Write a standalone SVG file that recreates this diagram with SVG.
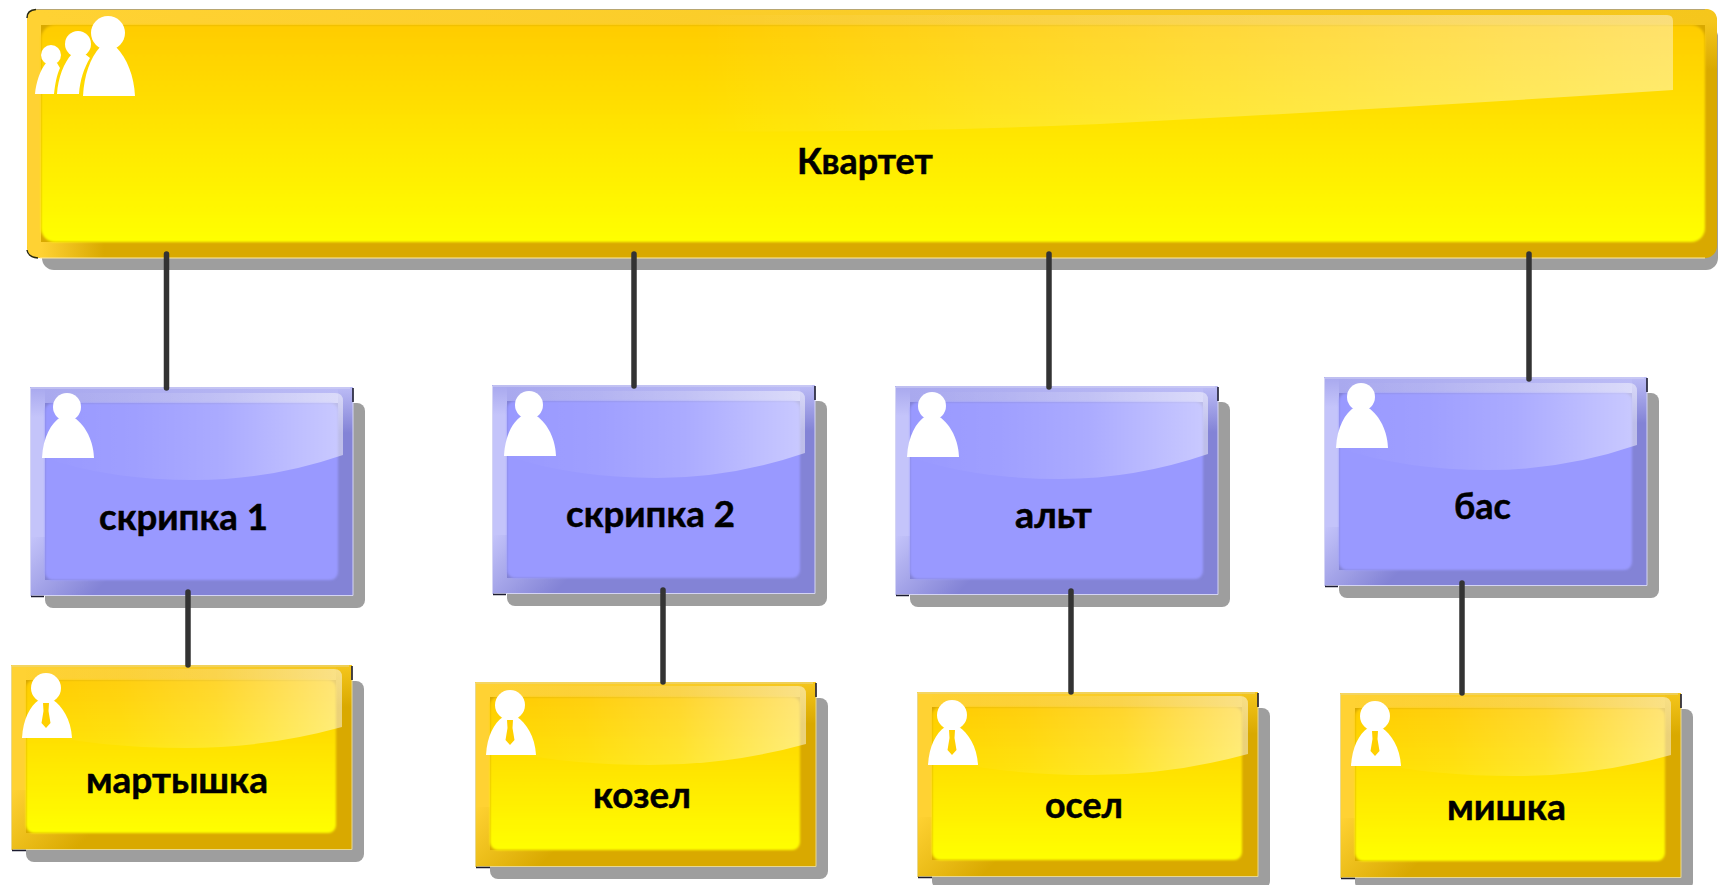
<svg xmlns="http://www.w3.org/2000/svg" width="1718" height="885" viewBox="0 0 1718 885">
<style>
text{font-family:"Lato","Noto Sans","Liberation Sans",sans-serif;font-weight:700;font-size:37px;fill:#000;stroke:#000;stroke-width:.5}
.sh{fill:#9e9e9e}
.tick{fill:none;stroke:#1c1c30;stroke-width:1.6}
.edge{fill:none;stroke:#e8d890;stroke-width:1}
.edgeb{fill:none;stroke:#d4d4f4;stroke-width:1}
.conn{stroke:#333;stroke-width:5.5;stroke-linecap:round;fill:none}
.ic{fill:#fff}
</style>
<defs>
<linearGradient id="yIn" x1="0" y1="0" x2="0" y2="1"><stop offset="0" stop-color="#ffcc00"/><stop offset="1" stop-color="#ffff00"/></linearGradient>
<linearGradient id="yCorner" gradientUnits="userSpaceOnUse" x1="0" y1="125" x2="62" y2="187"><stop offset="0" stop-color="#ffd233"/><stop offset="1" stop-color="#d9a900"/></linearGradient>
<linearGradient id="yTopS" x1="0" y1="0" x2="1" y2="0"><stop offset="0" stop-color="#ffd233"/><stop offset="1" stop-color="#f5c61c"/></linearGradient>
<linearGradient id="yR" x1="0" y1="0" x2="0" y2="1"><stop offset="0" stop-color="#f5c61c"/><stop offset="1" stop-color="#d9a900"/></linearGradient>
<linearGradient id="yB" x1="0" y1="0" x2="1" y2="0"><stop offset="0" stop-color="#ffd233"/><stop offset=".7" stop-color="#d9a900"/></linearGradient>
<linearGradient id="bL" x1="0" y1="0" x2="0" y2="1"><stop offset="0" stop-color="#a8a8ee"/><stop offset=".2" stop-color="#c4c4fa"/><stop offset="1" stop-color="#c4c4fa"/></linearGradient>
<linearGradient id="bCorner" gradientUnits="userSpaceOnUse" x1="0" y1="150" x2="60" y2="210"><stop offset="0" stop-color="#c4c4fa"/><stop offset="1" stop-color="#8383d6"/></linearGradient>
<linearGradient id="bTopS" x1="0" y1="0" x2="1" y2="0"><stop offset="0" stop-color="#a8a8ee"/><stop offset="1" stop-color="#bcbcf6"/></linearGradient>
<linearGradient id="bR" x1="0" y1="0" x2="0" y2="1"><stop offset="0" stop-color="#bcbcf6"/><stop offset="1" stop-color="#8383d6"/></linearGradient>
<linearGradient id="gl" x1="0" y1="0" x2="1" y2="0"><stop offset="0" stop-color="#fff" stop-opacity="0"/><stop offset=".3" stop-color="#fff" stop-opacity=".06"/><stop offset=".6" stop-color="#fff" stop-opacity=".18"/><stop offset="1" stop-color="#fff" stop-opacity=".48"/></linearGradient>
<linearGradient id="glT" x1="0" y1="0" x2="1" y2="0"><stop offset="0" stop-color="#fff" stop-opacity="0"/><stop offset=".4" stop-color="#fff" stop-opacity="0"/><stop offset="1" stop-color="#fff" stop-opacity=".42"/></linearGradient>
<filter id="soft" x="-5%" y="-5%" width="110%" height="110%"><feGaussianBlur stdDeviation=".5"/></filter>
<filter id="soft2" x="-3%" y="-3%" width="106%" height="106%"><feGaussianBlur stdDeviation=".8"/></filter>

<g id="blueBox">
<rect class="sh" x="15" y="16" width="320" height="205" rx="8"/>
<rect x="0" y="0" width="323" height="209" rx="3" fill="#8383d6"/>
<rect x="0" y="0" width="323" height="16" fill="url(#bTopS)"/>
<rect x="308" y="0" width="15" height="46" fill="url(#bR)"/>
<rect x="0" y="0" width="15" height="150" fill="url(#bL)"/>
<path d="M0 150H15V193H100V209H0Z" fill="url(#bCorner)"/>
<rect x="15" y="16" width="293" height="177" rx="8" fill="#9999ff" filter="url(#soft2)"/>
<path d="M15 14Q15 6 23 6H305Q313 6 313 14V68Q240 93 165 93Q80 93 15 71Z" fill="url(#gl)"/>
<path class="edgeb" d="M0.500 209V1H320M323 4V208.500H2"/>
<path class="tick" d="M323 1V15M1 209.500H14"/>
<g class="ic" filter="url(#soft)">
<circle cx="37" cy="20" r="14"/>
<path d="M12 71C13 50 21 36 31 30H43C53 36 63 50 64 71Z"/>
</g>
</g>

<g id="yellowBox">
<rect class="sh" x="15" y="16" width="338" height="181" rx="8"/>
<rect x="0" y="0" width="341" height="185" rx="3" fill="#d9a900"/>
<rect x="0" y="0" width="341" height="15" fill="url(#yTopS)"/>
<rect x="325" y="0" width="16" height="42" fill="url(#yR)"/>
<rect x="0" y="0" width="15" height="125" fill="#ffd233"/>
<path d="M0 125H15V168H120V185H0Z" fill="url(#yCorner)"/>
<rect x="15" y="15" width="310" height="153" rx="8" fill="url(#yIn)" filter="url(#soft2)"/>
<path d="M15 12Q15 4 23 4H323Q331 4 331 12V62Q255 83 175 83Q85 83 15 66Z" fill="url(#gl)"/>
<path class="edge" d="M0.500 185V1H338M341 4V184.500H2"/>
<path class="tick" d="M341 1V15M1 185.500H15"/>
<g filter="url(#soft)">
<circle class="ic" cx="35" cy="23" r="15"/>
<path class="ic" d="M11 73C12 54 19 41 28 35H42C51 41 60 54 61 73Z"/>
<path d="M32 38H38L37.500 46L39.500 58L35 63L30.500 58L32.500 46Z" fill="#ffd000"/>
</g>
</g>
</defs>

<g id="node-quartet">
<rect class="sh" x="42" y="25" width="1676" height="245" rx="12"/>
<rect x="27" y="9" width="1690" height="249" rx="12" fill="#d9a900"/>
<path d="M39 9H1705Q1717 9 1717 21V25H39Z" fill="url(#yTopS)"/>
<rect x="1705" y="22" width="12" height="48" fill="url(#yR)"/>
<path d="M27 21Q27 9 39 9H41V258H39Q27 258 27 246Z" fill="#ffd233"/>
<rect x="41" y="242" width="90" height="16" fill="url(#yB)"/>
<rect x="41" y="25" width="1664" height="217" rx="14" fill="url(#yIn)" filter="url(#soft2)"/>
<path d="M41 15H1667Q1673 15 1673 21V90Q1400 108 1100 124Q850 135 600 130Q300 122 41 100Z" fill="url(#glT)"/>
<path d="M36 9.500H1705" fill="none" stroke="#b8a670" stroke-width="1"/>
<path d="M40 258H1705" fill="none" stroke="#ffe9a0" stroke-width="1"/>
<path d="M27 18Q27 10 36 9.500M27 250Q28 257 38 258" fill="none" stroke="#2a2a10" stroke-width="1.500"/>
<g class="ic" filter="url(#soft)">
<circle cx="108" cy="33" r="17"/>
<path d="M83 96C84 76 90 58 100 47H116C127 58 134 76 135 96Z"/>
<circle cx="78" cy="44" r="13"/>
<path d="M57 94C58 78 64 62 72 54H85L90 58C84 68 80 80 79 94Z"/>
<circle cx="51" cy="55" r="10"/>
<path d="M35 94C36 83 40 70 46 63H57L60 68C57 74 55 84 54 94Z"/>
</g>
<text x="797" y="174" textLength="136" lengthAdjust="spacingAndGlyphs">Квартет</text>
</g>

<g id="node-violin1"><use href="#blueBox" x="30" y="387"/><text x="99" y="530" textLength="169" lengthAdjust="spacingAndGlyphs">скрипка 1</text></g>
<g id="node-violin2"><use href="#blueBox" x="492" y="385"/><text x="566" y="527" textLength="169" lengthAdjust="spacingAndGlyphs">скрипка 2</text></g>
<g id="node-viola"><use href="#blueBox" x="895" y="386"/><text x="1015" y="528" textLength="77" lengthAdjust="spacingAndGlyphs">альт</text></g>
<g id="node-bass"><use href="#blueBox" x="1324" y="377"/><text x="1454" y="519" textLength="57" lengthAdjust="spacingAndGlyphs">бас</text></g>

<g id="node-monkey"><use href="#yellowBox" x="11" y="665"/><text x="86" y="793" textLength="182" lengthAdjust="spacingAndGlyphs">мартышка</text></g>
<g id="node-goat"><use href="#yellowBox" x="475" y="682"/><text x="593" y="808" textLength="98" lengthAdjust="spacingAndGlyphs">козел</text></g>
<g id="node-donkey"><use href="#yellowBox" x="917" y="692"/><text x="1045" y="818" textLength="78" lengthAdjust="spacingAndGlyphs">осел</text></g>
<g id="node-bear"><use href="#yellowBox" x="1340" y="693"/><text x="1447" y="820" textLength="119" lengthAdjust="spacingAndGlyphs">мишка</text></g>

<g id="connectors">
<path class="conn" d="M166.500 254V388"/>
<path class="conn" d="M634 254V386"/>
<path class="conn" d="M1049 254V387"/>
<path class="conn" d="M1529 254V379"/>
<path class="conn" d="M188 592V665"/>
<path class="conn" d="M663 590V682"/>
<path class="conn" d="M1071 591V692"/>
<path class="conn" d="M1462 583V693"/>
</g>
</svg>
